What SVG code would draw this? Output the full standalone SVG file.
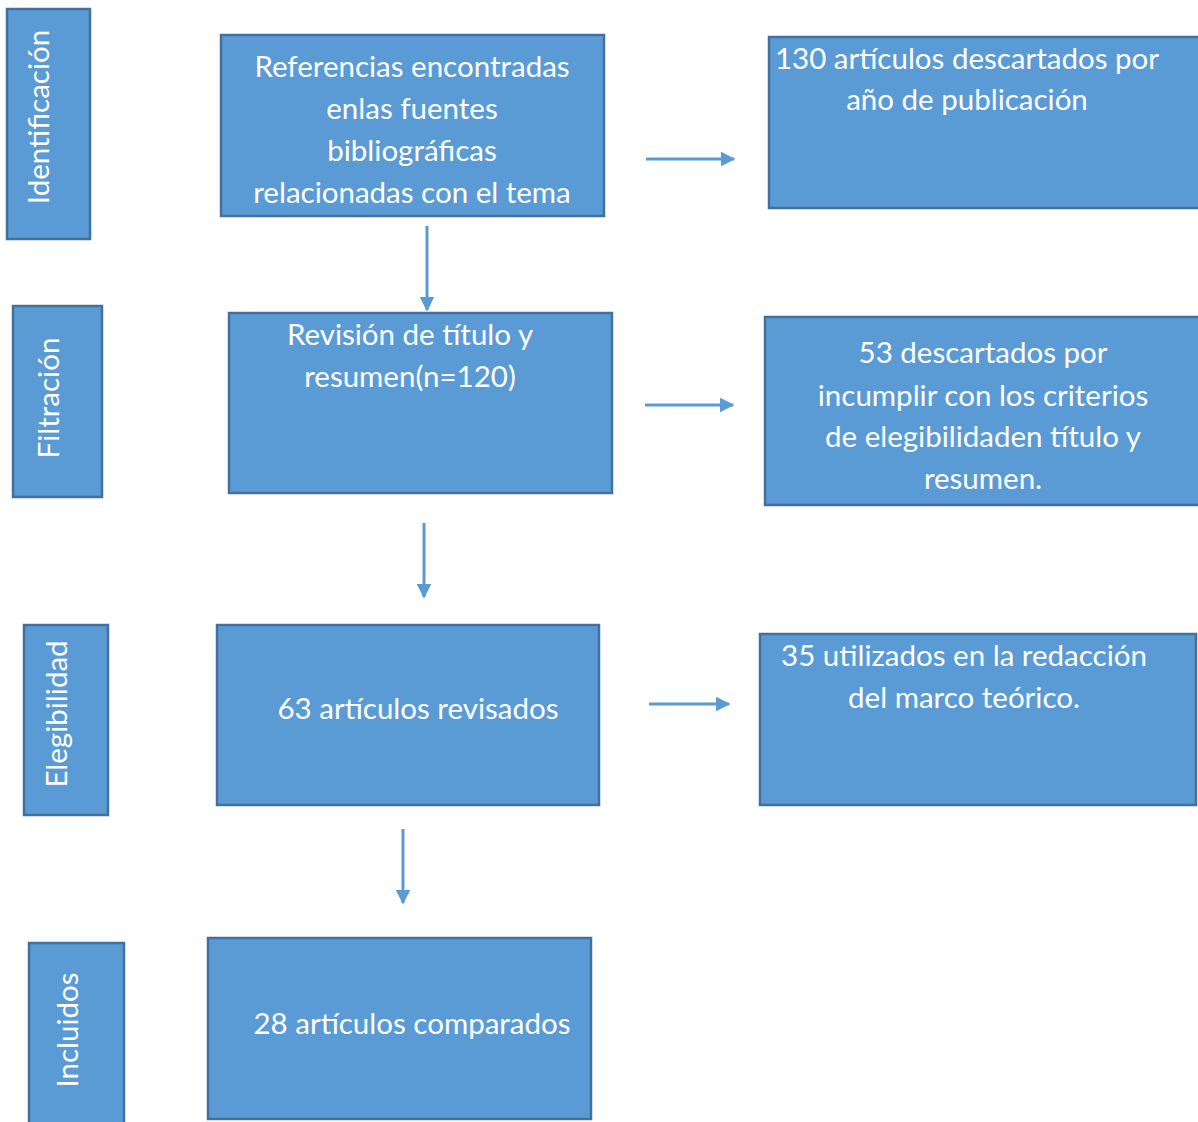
<svg xmlns="http://www.w3.org/2000/svg" width="1198" height="1122" viewBox="0 0 1198 1122">
<defs>
<style>
.box{fill:#5b9bd5;stroke:#41719c;stroke-width:2.5}
.t{font-family:Lato,"Open Sans",sans-serif;font-size:29.5px;fill:#ffffff;text-anchor:middle}
.c{stroke:#5b9bd5;stroke-width:3;fill:none}
</style>
<marker id="ah" viewBox="0 0 10 10" refX="9" refY="5" markerWidth="5" markerHeight="5" orient="auto" markerUnits="strokeWidth">
<path d="M0,0 L10,5 L0,10 z" fill="#5b9bd5"/>
</marker>
</defs>
<rect width="1198" height="1122" fill="#ffffff"/>
<g id="lbl-identificacion"><rect class="box" x="7" y="9" width="83" height="230"/><text class="t" transform="translate(49,117) rotate(-90)">Identificación</text></g>
<g id="lbl-filtracion"><rect class="box" x="13" y="306" width="89" height="191"/><text class="t" transform="translate(59,398) rotate(-90)">Filtración</text></g>
<g id="lbl-elegibilidad"><rect class="box" x="24" y="625" width="84" height="190"/><text class="t" transform="translate(67,714) rotate(-90)">Elegibilidad</text></g>
<g id="lbl-incluidos"><rect class="box" x="29" y="943" width="95" height="182"/><text class="t" transform="translate(78,1030) rotate(-90)">Incluidos</text></g>
<g id="n-referencias"><rect class="box" x="221" y="35" width="383" height="181"/><text class="t" x="412"><tspan x="412" y="77">Referencias encontradas</tspan><tspan x="412" y="119">enlas fuentes</tspan><tspan x="412" y="161">bibliográficas</tspan><tspan x="412" y="203">relacionadas con el tema</tspan></text></g>
<g id="n-descartados130"><rect class="box" x="769" y="37" width="432" height="171"/><text class="t"><tspan x="967" y="69">130 artículos descartados por</tspan><tspan x="967" y="110">año de publicación</tspan></text></g>
<g id="n-revision"><rect class="box" x="229" y="313" width="383" height="180"/><text class="t"><tspan x="410" y="345">Revisión de título y</tspan><tspan x="410" y="387">resumen(n=120)</tspan></text></g>
<g id="n-descartados53"><rect class="box" x="765" y="317" width="436" height="188"/><text class="t"><tspan x="983" y="363">53 descartados por</tspan><tspan x="983" y="406">incumplir con los criterios</tspan><tspan x="983" y="447">de elegibilidaden título y</tspan><tspan x="983" y="489">resumen.</tspan></text></g>
<g id="n-revisados63"><rect class="box" x="217" y="625" width="382" height="180"/><text class="t" x="418" y="719">63 artículos revisados</text></g>
<g id="n-utilizados35"><rect class="box" x="760" y="634" width="436" height="171"/><text class="t"><tspan x="964" y="666">35 utilizados en la redacción</tspan><tspan x="964" y="708">del marco teórico.</tspan></text></g>
<g id="n-comparados28"><rect class="box" x="208" y="938" width="383" height="181"/><text class="t" x="412" y="1034">28 artículos comparados</text></g>
<g id="connectors">
<line class="c" x1="646" y1="159" x2="734" y2="159" marker-end="url(#ah)"/>
<line class="c" x1="427" y1="226" x2="427" y2="310" marker-end="url(#ah)"/>
<line class="c" x1="645" y1="405" x2="733" y2="405" marker-end="url(#ah)"/>
<line class="c" x1="424" y1="523" x2="424" y2="597" marker-end="url(#ah)"/>
<line class="c" x1="649" y1="704" x2="729" y2="704" marker-end="url(#ah)"/>
<line class="c" x1="403" y1="829" x2="403" y2="903" marker-end="url(#ah)"/>
</g>
</svg>
